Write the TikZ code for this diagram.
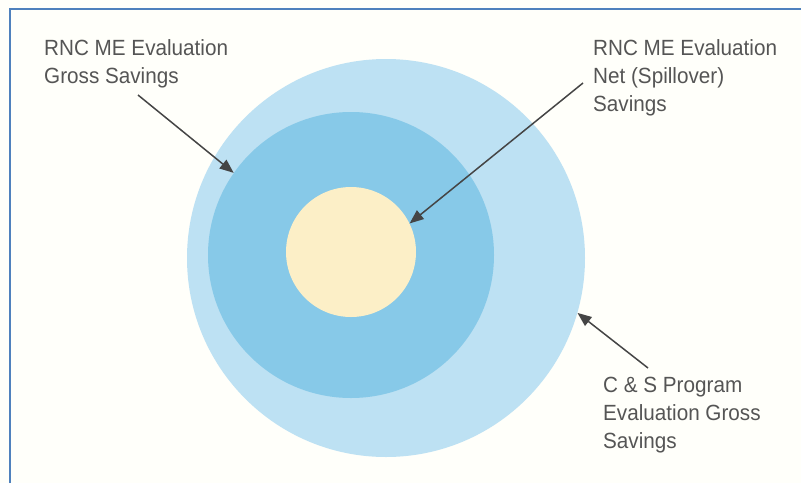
\documentclass[tikz,border=0pt]{standalone}
\usepackage{fontspec}
\setmainfont[FakeStretch=0.94]{Liberation Sans}
\usetikzlibrary{arrows.meta}

\definecolor{ringout}{HTML}{BDE1F3}
\definecolor{ringmid}{HTML}{87C9E8}
\definecolor{corefill}{HTML}{FCEFC7}
\definecolor{frameblue}{HTML}{4F81BD}
\definecolor{labelgray}{HTML}{555555}
\definecolor{arrowgray}{HTML}{454545}

\tikzset{
  disc/.style={circle, inner sep=0pt, draw=none},
  lbl/.style={anchor=north west, inner sep=0pt, align=left, text=labelgray,
    font=\fontsize{22}{28}\selectfont},
  pointer/.style={arrowgray, line width=1.5pt, -{Triangle[length=14pt,width=11pt]}},
}

\begin{document}
\begin{tikzpicture}[x=1pt,y=-1pt]
    \useasboundingbox (0,0) rectangle (801,483);
    \fill[white!98!yellow] (0,0) rectangle (801,483);
    % frame
    \draw[frameblue, line width=2pt] (10,483) -- (10,9) -- (801,9);

    % rings
    \node[disc, fill=ringout, minimum size=398pt] (outer) at (386,258) {};
    \node[disc, fill=ringmid, minimum size=286pt] (mid) at (351,255) {};
    \node[disc, fill=corefill, minimum size=130pt] (core) at (351,252) {};

    % labels
    \node[lbl] (gross) at (44,39) {RNC ME Evaluation\\Gross Savings};
    \node[lbl] (net) at (593,39) {RNC ME Evaluation\\Net (Spillover)\\Savings};
    \node[lbl] (program) at (603,377) {C \& S Program\\Evaluation Gross\\Savings};

    % pointers
    \coordinate (grosstail) at (138,95);
    \coordinate (nettail) at (583,83);
    \coordinate (programtail) at (648,368);
    \draw[pointer] (grosstail) -- (mid.145);
    \draw[pointer] (nettail) -- (core.26);
    \draw[pointer] (programtail) -- (outer.-16);
\end{tikzpicture}
\end{document}
